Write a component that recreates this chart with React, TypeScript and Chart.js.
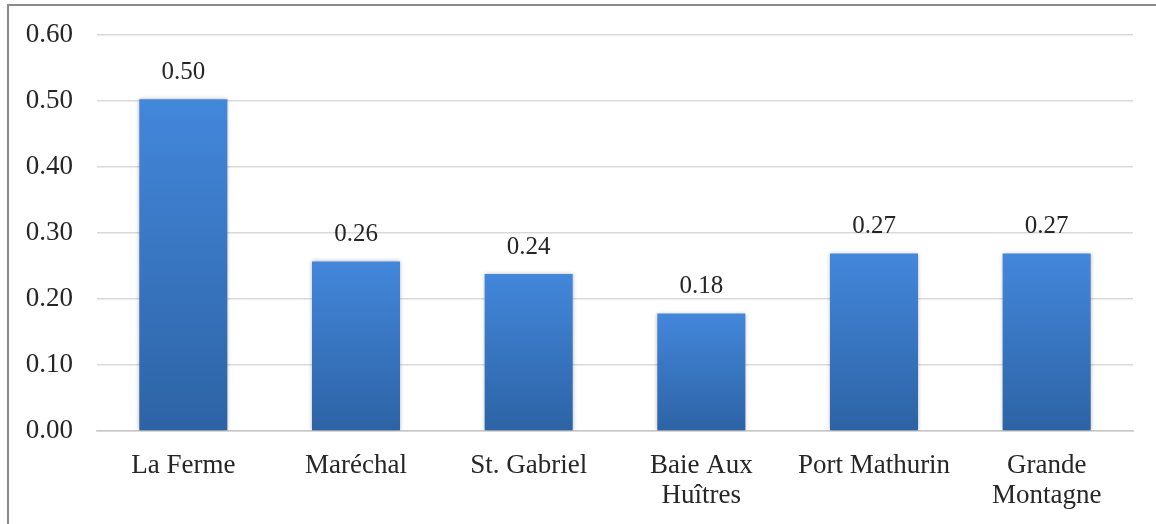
import React, { useEffect, useRef } from "react";
import { Chart, registerables } from "chart.js";

Chart.register(...registerables);

const categories: (string | string[])[] = [
  "La Ferme",
  "Maréchal",
  "St. Gabriel",
  ["Baie Aux", "Huîtres"],
  "Port Mathurin",
  ["Grande", "Montagne"],
];
const values: number[] = [0.503, 0.257, 0.238, 0.178, 0.269, 0.269];
const yMin = 0;
const yMax = 0.6;
const yStep = 0.1;

const FONT = "'Liberation Serif', 'Times New Roman', serif";
const TEXT = "#262626";

const dataLabelPlugin = {
  id: "dataLabels",
  afterDatasetsDraw(chart: any) {
    const ctx = chart.ctx;
    const meta = chart.getDatasetMeta(0);
    ctx.save();
    ctx.font = `25px ${FONT}`;
    ctx.fillStyle = TEXT;
    ctx.textAlign = "center";
    ctx.textBaseline = "middle";
    meta.data.forEach((bar: any, i: number) => {
      ctx.fillText(values[i].toFixed(2), bar.x, bar.y - 27);
    });
    ctx.restore();
  },
};

const shadowPlugin = {
  id: "barShadow",
  beforeDatasetsDraw(chart: any) {
    const ctx = chart.ctx;
    ctx.save();
    ctx.shadowColor = "rgba(0,0,0,0.28)";
    ctx.shadowBlur = 4;
    ctx.shadowOffsetX = 0;
    ctx.shadowOffsetY = 0;
  },
  afterDatasetsDraw(chart: any) {
    chart.ctx.restore();
  },
};

export default function App() {
  const ref = useRef<HTMLCanvasElement | null>(null);

  useEffect(() => {
    if (!ref.current) return;
    const chart = new Chart(ref.current, {
      type: "bar",
      data: {
        labels: categories,
        datasets: [
          {
            data: values,
            backgroundColor: (c: any) => {
              const ch = c.chart;
              const ys = ch.scales?.y;
              if (!ys || c.parsed == null) return "#3a78c8";
              const top = ys.getPixelForValue(c.parsed.y);
              const bottom = ys.getPixelForValue(0);
              if (!isFinite(top) || !isFinite(bottom) || top === bottom) return "#3a78c8";
              const g = ch.ctx.createLinearGradient(0, top, 0, bottom);
              g.addColorStop(0, "#4387db");
              g.addColorStop(1, "#2d63a5");
              return g;
            },
            borderWidth: 0,
            categoryPercentage: 1,
            barPercentage: 0.51,
          },
        ],
      },
      options: {
        animation: false,
        responsive: false,
        devicePixelRatio: 1,
        layout: { padding: { top: 30, right: 23, left: 0, bottom: 0 } },
        plugins: {
          legend: { display: false },
          tooltip: { enabled: false },
        },
        scales: {
          x: {
            grid: { display: false, drawTicks: false },
            border: { display: true, color: "#c8c8c8", width: 1.5 },
            ticks: {
              color: TEXT,
              font: { family: FONT, size: 27, lineHeight: 1.1 },
              padding: 20,
              maxRotation: 0,
              autoSkip: false,
            },
            afterFit: (s: any) => {
              s.height = 88;
            },
          },
          y: {
            min: yMin,
            max: yMax,
            grid: { color: "#d9d9d9", lineWidth: 1.5, drawTicks: false },
            border: { display: false },
            ticks: {
              stepSize: yStep,
              color: TEXT,
              font: { family: FONT, size: 27 },
              padding: 24,
              callback: (v: any) => Number(v).toFixed(2),
            },
            afterFit: (s: any) => {
              s.width = 97;
            },
          },
        },
      },
      plugins: [shadowPlugin, dataLabelPlugin],
    });
    return () => chart.destroy();
  }, []);

  return (
    <div
      style={{
        position: "absolute",
        left: 0,
        top: 0,
        width: 1156,
        height: 524,
        overflow: "hidden",
        background: "#fff",
      }}
    >
      <canvas
        ref={ref}
        width={1156}
        height={524}
        style={{ position: "absolute", left: 0, top: -5, width: 1156, height: 524 }}
      />
      <div
        style={{
          position: "absolute",
          left: 7,
          top: 4,
          width: 1200,
          height: 600,
          border: "2px solid #8a8a8a",
          pointerEvents: "none",
        }}
      />
    </div>
  );
}
